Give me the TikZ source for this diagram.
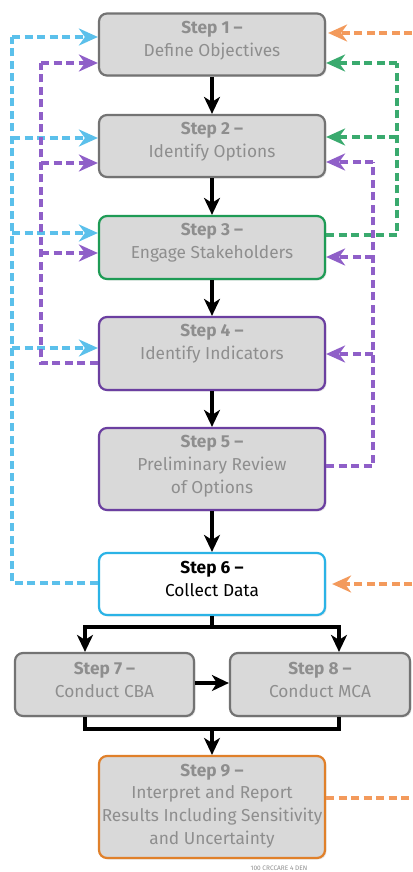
\documentclass[tikz,border=0pt]{standalone}
\usepackage{fontspec}
\setmainfont{Fira Sans}
\usetikzlibrary{arrows.meta,shadows}
\definecolor{boxfill}{HTML}{D9D9D9}
\definecolor{boxline}{HTML}{737373}
\definecolor{txtgray}{HTML}{8E8E8E}
\definecolor{grnline}{HTML}{1E9B55}
\definecolor{purline}{HTML}{6B3FA0}
\definecolor{cyanline}{HTML}{2BB3E6}
\definecolor{orgline}{HTML}{E0802A}
\definecolor{dblue}{HTML}{5BC0EB}
\definecolor{dpurple}{HTML}{8F5FC8}
\definecolor{dgreen}{HTML}{3AAA6E}
\definecolor{dorange}{HTML}{F39A5C}
\tikzset{
  stepbox/.style={draw=boxline, fill=boxfill, line width=2.2pt, rounded corners=8pt,
    minimum width=226pt, inner sep=0pt,
    drop shadow={opacity=0.18, shadow xshift=1.5pt, shadow yshift=-1.5pt}},
  steptxt/.style={align=center, text=txtgray, font=\fontsize{17.3}{22.8}\selectfont, inner sep=0pt},
  flow/.style={line width=3.1pt, -{Stealth[length=17pt,width=16pt,inset=5pt]}},
  flowline/.style={line width=3.1pt},
  fb/.style={line width=3.1pt, dash pattern=on 8pt off 4.5pt},
  fbarrow/.style={fb, -{Stealth[length=19pt,width=17pt,inset=6pt]}},
}
\begin{document}
\begin{tikzpicture}[x=1pt,y=-1pt]
\useasboundingbox (0,0) rectangle (412,872);
% boxes
\node[stepbox, minimum height=62pt] (s1) at (212,44.5) {};
\node[stepbox, minimum height=62pt] (s2) at (212,146) {};
\node[stepbox, minimum height=63pt, draw=grnline] (s3) at (212,247.5) {};
\node[stepbox, minimum height=73pt, draw=purline] (s4) at (212,353.5) {};
\node[stepbox, minimum height=82pt, draw=purline] (s5) at (212,469) {};
\node[stepbox, minimum height=62pt, draw=cyanline, fill=white] (s6) at (212,584) {};
\node[stepbox, minimum height=63pt, minimum width=179pt] (s7) at (104.5,684.5) {};
\node[stepbox, minimum height=63pt, minimum width=180pt] (s8) at (320,684.5) {};
\node[stepbox, minimum height=102pt, draw=orgline] (s9) at (212,807) {};
% texts
\node[steptxt] (t1) at (212,40.5) {\textbf{Step 1 –}\\Define Objectives};
\node[steptxt] (t2) at (212,141.5) {\textbf{Step 2 –}\\Identify Options};
\node[steptxt] (t3) at (212,242.5) {\textbf{Step 3 –}\\Engage Stakeholders};
\node[steptxt] (t4) at (212,344) {\textbf{Step 4 –}\\Identify Indicators};
\node[steptxt] (t5) at (212,466) {\textbf{Step 5 –}\\Preliminary Review\\of Options};
\node[steptxt, text=black] (t6) at (212,579) {\textbf{Step 6 –}\\Collect Data};
\node[steptxt] (t7) at (104.5,680) {\textbf{Step 7 –}\\Conduct CBA};
\node[steptxt] (t8) at (320,680) {\textbf{Step 8 –}\\Conduct MCA};
\node[steptxt] (t9) at (212,806) {\textbf{Step 9 –}\\Interpret and Report\\Results Including Sensitivity\\and Uncertainty};
\node[text=txtgray, font=\fontsize{6.5}{7}\selectfont, inner sep=0pt] (cap) at (279,868) {100 CRCCARE 4 DEN};
% black flow
\draw[flow] (s1) -- (s2);
\draw[flow] (s2) -- (s3);
\draw[flow] (s3) -- (s4);
\draw[flow] (s4) -- (s5);
\draw[flow] (s5) -- (s6);
\coordinate (jm) at (212,627);
\coordinate (j7) at (85,627);
\coordinate (j8) at (339,627);
\coordinate (k7) at (85,729);
\coordinate (k8) at (339,729);
\coordinate (km) at (212,729);
\draw[flowline] (s6.south) -- (jm);
\draw[flowline, line cap=rect] (j7) -- (j8);
\draw[flow] (j7) -- (j7 |- s7.north);
\draw[flow] (j8) -- (j8 |- s8.north);
\draw[flow] (s7.east |- 0,683) -- (s8.west |- 0,683);
\draw[flowline] (j7 |- s7.south) -- (k7) -- (k8) -- (j8 |- s8.south);
\draw[flow] (km) -- (s9.north);
% blue feedback (left, x=12)
\coordinate (b1) at (12,37);
\coordinate (b2) at (12,138);
\coordinate (b3) at (12,233);
\coordinate (b4) at (12,348);
\draw[fb, dblue] (s6.west |- 0,583) -| (b1);
\draw[fbarrow, dblue] (b1) -- (b1 -| s1.west);
\draw[fbarrow, dblue] (b2) -- (b2 -| s2.west);
\draw[fbarrow, dblue] (b3) -- (b3 -| s3.west);
\draw[fbarrow, dblue] (b4) -- (b4 -| s4.west);
% purple feedback (left, x=41)
\coordinate (p1) at (41,63);
\coordinate (p2) at (41,163);
\coordinate (p3) at (41,253);
\draw[fb, dpurple] (s4.west |- 0,363) -| (p1);
\draw[fbarrow, dpurple] (p1) -- (p1 -| s1.west);
\draw[fbarrow, dpurple] (p2) -- (p2 -| s2.west);
\draw[fbarrow, dpurple] (p3) -- (p3 -| s3.west);
% green feedback (right, x=397)
\coordinate (g1) at (397,63);
\coordinate (g2) at (397,137);
\draw[fb, dgreen] (s3.east |- 0,235) -| (g1);
\draw[fbarrow, dgreen] (g1) -- (g1 -| s1.east);
\draw[fbarrow, dgreen] (g2) -- (g2 -| s2.east);
% purple feedback (right, x=373)
\coordinate (q2) at (373,162);
\coordinate (q3) at (373,257);
\coordinate (q4) at (373,354);
\draw[fb, dpurple] (s5.east |- 0,466) -| (q2);
\draw[fbarrow, dpurple] (q2) -- (q2 -| s2.east);
\draw[fbarrow, dpurple] (q3) -- (q3 -| s3.east);
\draw[fbarrow, dpurple] (q4) -- (q4 -| s4.east);
% orange feedback (off right edge)
\coordinate (o1) at (412,33);
\coordinate (o6) at (412,584);
\coordinate (o9) at (412,798);
\draw[fbarrow, dorange, shorten >=2pt] (o1) -- (o1 -| s1.east);
\draw[fbarrow, dorange, shorten >=6pt] (o6) -- (o6 -| s6.east);
\draw[fb, dorange] (s9.east |- o9) -- (o9);
\end{tikzpicture}
\end{document}
